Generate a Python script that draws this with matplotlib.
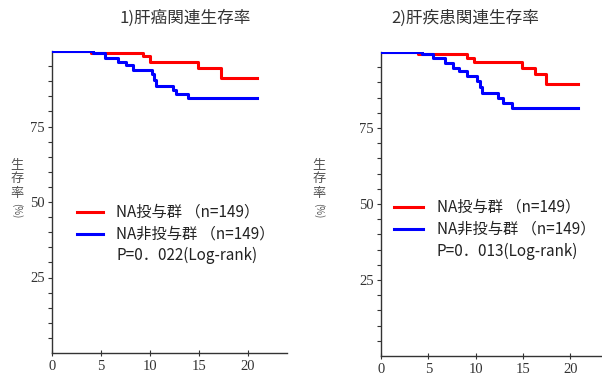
import matplotlib
matplotlib.use("Agg")
import matplotlib.pyplot as plt
import numpy as np

plt.rcParams['font.family'] = ['Noto Sans CJK JP', 'DejaVu Sans']

# Kaplan-Meier step data: (time in years, survival %)
cancer_na_t = [0, 4.0, 9.3, 10.0, 14.9, 17.3, 20.9]
cancer_na_s = [100, 99.2, 98.3, 96.2, 94.3, 91.2, 91.2]
cancer_non_t = [0, 4.2, 5.4, 6.7, 7.6, 8.3, 10.2, 10.4, 10.6, 12.4, 12.7, 13.9, 20.9]
cancer_non_s = [100, 99.2, 97.6, 96.3, 95.2, 93.6, 92.3, 90.5, 88.4, 87.1, 85.7, 84.3, 84.3]

liver_na_t = [0, 3.9, 9.1, 9.8, 14.9, 16.3, 17.4, 20.8]
liver_na_s = [100, 99.2, 98.1, 96.7, 94.8, 92.7, 89.6, 89.6]
liver_non_t = [0, 4.3, 5.5, 6.8, 7.6, 8.2, 9.1, 10.1, 10.5, 10.7, 12.4, 12.9, 13.9, 20.8]
liver_non_s = [100, 99.2, 98.1, 96.5, 94.8, 93.7, 92.1, 90.4, 88.6, 86.6, 85.0, 83.1, 81.6, 81.6]

titles = ["1)肝癌関連生存率", "2)肝疾患関連生存率"]
legend_na = "NA投与群 （n=149）"
legend_non = "NA非投与群 （n=149）"
p_texts = ["P=0．022(Log-rank)", "P=0．013(Log-rank)"]
x_ticks = [0, 5, 10, 15, 20]
y_ticks = [25, 50, 75]

W, H = 602, 378
fig = plt.figure(figsize=(W / 100, H / 100), dpi=100)

# axes boxes in pixels
panels = [
    dict(left=52, right=287, top=51, bottom=353,
         na=(cancer_na_t, cancer_na_s), non=(cancer_non_t, cancer_non_s),
         leg_x=(77, 103), leg_y=(212, 234, 255), text_x=116, ylab_x=17),
    dict(left=381, right=608, top=52, bottom=356,
         na=(liver_na_t, liver_na_s), non=(liver_non_t, liver_non_s),
         leg_x=(394, 423), leg_y=(207, 229, 251), text_x=437, ylab_x=319),
]

spine_col = "#333333"
text_col = "#333333"

for i, p in enumerate(panels):
    ax = fig.add_axes([p['left'] / W, 1 - p['bottom'] / H,
                       (p['right'] - p['left']) / W, (p['bottom'] - p['top']) / H])
    ax.step(p['na'][0], p['na'][1], where='post', color='#ff0000', lw=2.2, zorder=3)
    ax.step(p['non'][0], p['non'][1], where='post', color='#0000ff', lw=2.2, zorder=3)
    ax.set_xlim(0, 24)
    ax.set_ylim(0, 100)
    for s in ['top', 'right']:
        ax.spines[s].set_visible(False)
    for s in ['left', 'bottom']:
        ax.spines[s].set_color(spine_col)
        ax.spines[s].set_linewidth(1.0)
    ax.set_xticks(x_ticks)
    ax.set_yticks(y_ticks)
    ax.set_yticks(np.arange(5, 100, 5), minor=True)
    ax.tick_params(axis='y', which='both', direction='out', length=3, width=0.8,
                   color=spine_col, labelsize=10.5, labelcolor=text_col, pad=2)
    ax.tick_params(axis='x', which='major', direction='inout', length=4, width=0.8,
                   color=spine_col, labelsize=10.5, labelcolor=text_col, pad=3)
    for lab in ax.get_xticklabels() + ax.get_yticklabels():
        lab.set_fontfamily('Liberation Serif')
    ax.patch.set_alpha(0)

    # title
    cx = 185 if i == 0 else 465
    fig.text(cx / W, 1 - 18 / H, titles[i], ha='center', va='center',
             fontsize=12, color=text_col)

    # vertical y label
    for k, ch in enumerate("生存率"):
        fig.text(p['ylab_x'] / W, 1 - (165 + k * 14) / H, ch, ha='center',
                 va='center', fontsize=9.5, color='#555555')
    fig.text(p['ylab_x'] / W, 1 - 211 / H, "(%)", ha='center', va='center',
             fontsize=7, color='#555555', rotation=-90)

    # legend
    x0, x1 = p['leg_x']
    for yy, col in zip(p['leg_y'][:2], ['#ff0000', '#0000ff']):
        fig.add_artist(plt.Line2D([x0 / W, x1 / W], [1 - yy / H, 1 - yy / H],
                                  color=col, lw=2.2))
    for yy, txt in zip(p['leg_y'], [legend_na, legend_non, p_texts[i]]):
        fig.text(p['text_x'] / W, 1 - yy / H, txt, ha='left', va='center',
                 fontsize=11, color='#222222')

fig.savefig("out.png", dpi=100)
